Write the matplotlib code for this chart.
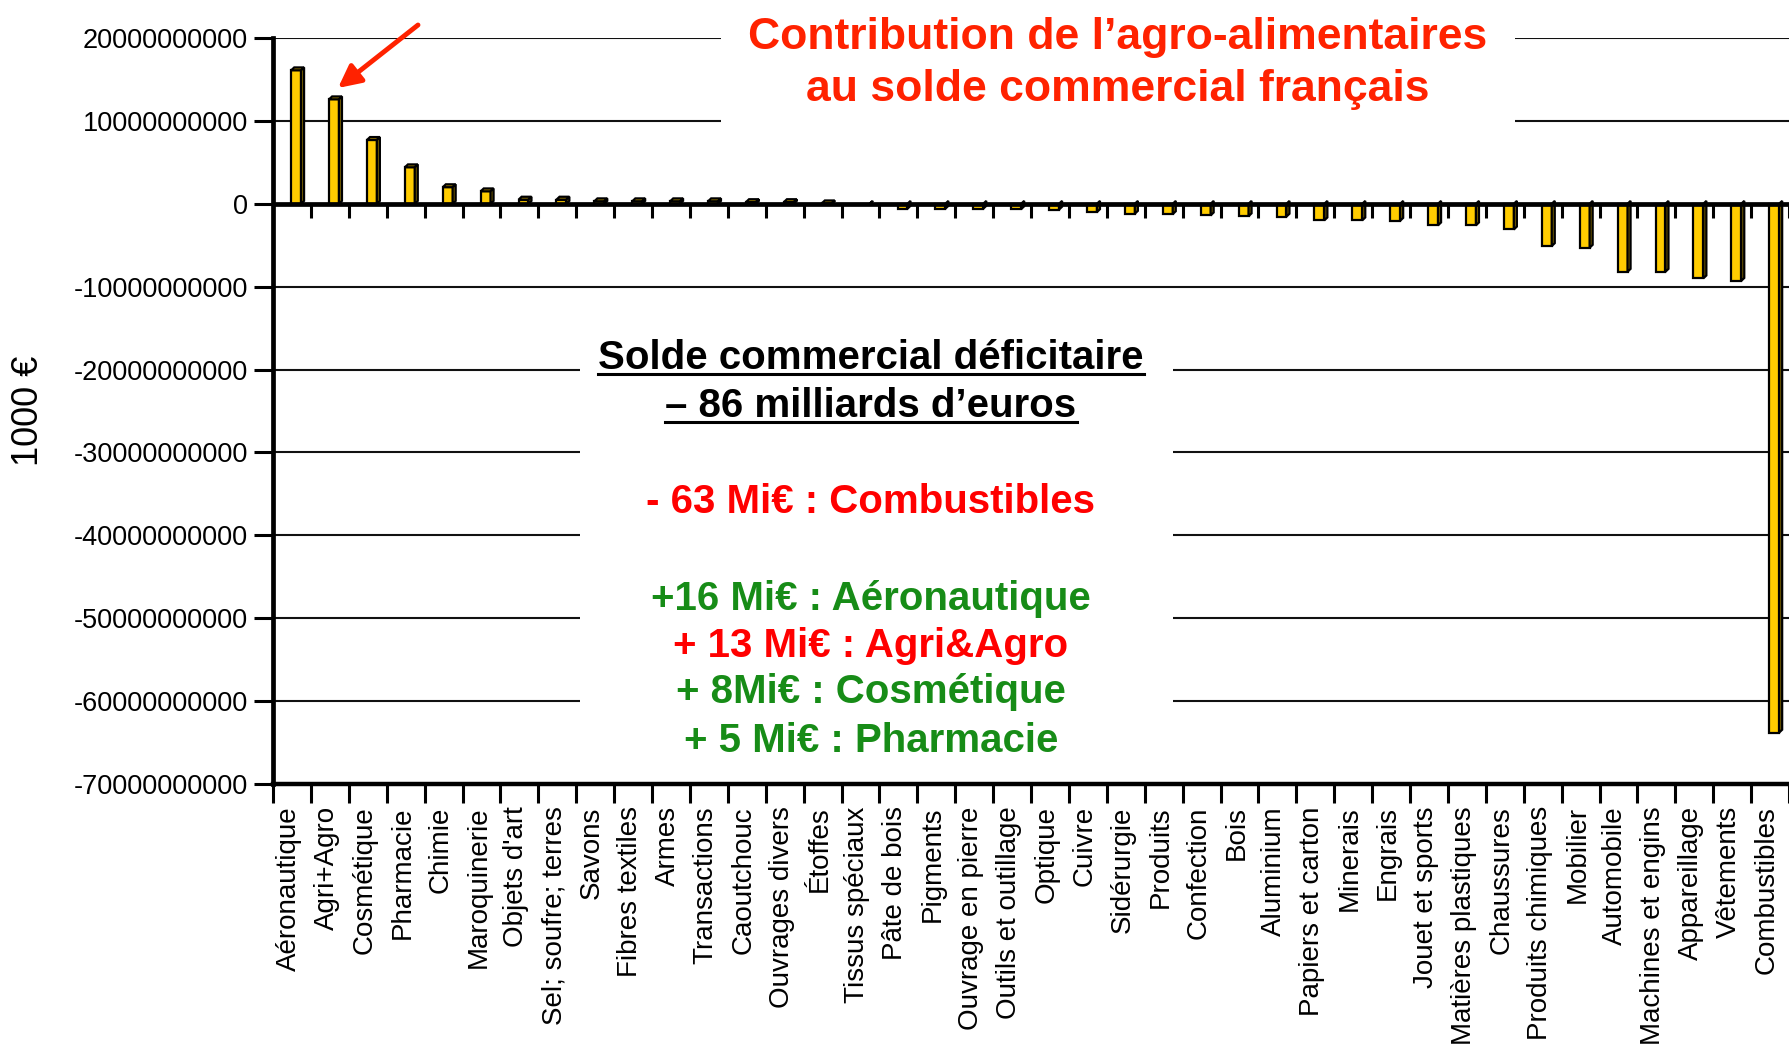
import numpy as np
import matplotlib
matplotlib.use('Agg')
import matplotlib.pyplot as plt
from matplotlib.patches import Polygon, Rectangle
from matplotlib.lines import Line2D

plt.rcParams['font.family'] = ['Liberation Sans', 'DejaVu Sans']
plt.rcParams['axes.unicode_minus'] = False

# categories, ordered as in the chart
secteurs = ['Aéronautique', 'Agri+Agro', 'Cosmétique', 'Pharmacie', 'Chimie',
            'Maroquinerie', "Objets d'art", 'Sel; soufre; terres', 'Savons',
            'Fibres textiles', 'Armes', 'Transactions', 'Caoutchouc',
            'Ouvrages divers', 'Étoffes', 'Tissus spéciaux', 'Pâte de bois',
            'Pigments', 'Ouvrage en pierre', 'Outils et outillage', 'Optique',
            'Cuivre', 'Sidérurgie', 'Produits', 'Confection', 'Bois',
            'Aluminium', 'Papiers et carton', 'Minerais', 'Engrais',
            'Jouet et sports', 'Matières plastiques', 'Chaussures',
            'Produits chimiques', 'Mobilier', 'Automobile',
            'Machines et engins', 'Appareillage', 'Vêtements', 'Combustibles']

# solde in billions of "1000 €" units
solde_mds = [16.1, 12.6, 7.7, 4.4, 2.0, 1.5, 0.5, 0.5, 0.3, 0.3, 0.3, 0.3,
             0.2, 0.2, 0.05, -0.05, -0.6, -0.6, -0.6, -0.65, -0.7, -1.0,
             -1.2, -1.25, -1.4, -1.5, -1.55, -2.0, -2.0, -2.05, -2.6, -2.6,
             -3.1, -5.1, -5.3, -8.2, -8.2, -9.0, -9.3, -63.8]
soldes = np.array(solde_mds) * 1e9

yticks = np.arange(-70, 21, 10) * 1e9
ytick_labels = [str(int(v)) for v in yticks]

titre = ['Contribution de l\u2019agro-alimentaires', 'au solde commercial français']
encadre = [('Solde commercial déficitaire', 'black', True),
           ('\u2013 86 milliards d\u2019euros', 'black', True),
           ('- 63 Mi€ : Combustibles', '#FF0000', False),
           ('+16 Mi€ : Aéronautique', '#178C17', False),
           ('+ 13 Mi€ : Agri&Agro', '#FF0000', False),
           ('+ 8Mi€ : Cosmétique', '#178C17', False),
           ('+ 5 Mi€ : Pharmacie', '#178C17', False)]
encadre_y = [369, 417, 513, 610, 657, 703, 752]

W, H = 1789, 1060
fig = plt.figure(figsize=(W / 100, H / 100), dpi=100)
ax = fig.add_axes([273 / W, 1 - 784 / H, (W - 273) / W, (784 - 38) / H])

n = len(secteurs)
x = np.arange(n)
x0 = x + 0.48
bw = 0.26
dx = 0.08
dy = 0.35e9

ax.bar(x0 + bw / 2, soldes, width=bw, color='#FFCC00', edgecolor='black',
       linewidth=1.6, zorder=3)
for xi, v in zip(x0, soldes):
    x1 = xi + bw
    if v >= 0:
        side = [(x1, 0), (x1 + dx, dy), (x1 + dx, v + dy), (x1, v)]
        top = [(xi, v), (xi + dx, v + dy), (x1 + dx, v + dy), (x1, v)]
        ax.add_patch(Polygon(top, closed=True, facecolor='#A88600',
                             edgecolor='black', lw=1.6, zorder=3))
    else:
        side = [(x1, v), (x1 + dx, v + dy), (x1 + dx, dy), (x1, 0)]
    ax.add_patch(Polygon(side, closed=True, facecolor='#806600',
                         edgecolor='black', lw=1.6, zorder=3))

# zero line and its ticks
ax.axhline(0, color='black', lw=3.4, zorder=4)
ax.vlines(np.arange(1, n + 1), 0, -1.7e9, color='black', lw=2.2, zorder=4)

ax.set_xlim(0, n)
ax.set_ylim(-70e9, 20e9)
ax.set_yticks(yticks)
ax.set_yticklabels(ytick_labels, fontsize=19.5)
ax.yaxis.grid(True, color='#111111', lw=1.5)
ax.set_axisbelow(True)

ax.set_xticks(np.arange(n + 1))
ax.set_xticklabels([])
ax.set_xticks(x + 0.42, minor=True)
ax.set_xticklabels(secteurs, minor=True, rotation=90, fontsize=20)
ax.tick_params(axis='x', which='major', length=14, width=2.2)
ax.tick_params(axis='x', which='minor', length=0, pad=16)
ax.tick_params(axis='y', length=14, width=2.2, pad=4)

for s in ['top', 'right']:
    ax.spines[s].set_visible(False)
ax.spines['left'].set_linewidth(3.4)
ax.spines['bottom'].set_linewidth(3.2)

fig.text(29 / W, 1 - 411 / H, '1000 €', rotation=90, fontsize=26,
         ha='center', va='center')

# white boxes hiding the grid behind the texts
ax.add_patch(Rectangle((721 / W, 1 - 130 / H), (1515 - 721) / W, 130 / H,
                       transform=fig.transFigure, facecolor='white',
                       edgecolor='none', zorder=1, clip_on=False))
ax.add_patch(Rectangle((580 / W, 1 - 775 / H), (1173 - 580) / W, 475 / H,
                       transform=fig.transFigure, facecolor='white',
                       edgecolor='none', zorder=1, clip_on=False))

for txt, yb in zip(titre, [49, 101]):
    fig.text(1118 / W, 1 - yb / H, txt, fontsize=32, fontweight='bold',
             color='#FF2200', ha='center', va='baseline')

souligne = []
for (txt, col, ul), yb in zip(encadre, encadre_y):
    t = fig.text(871 / W, 1 - yb / H, txt, fontsize=29, fontweight='bold',
                 color=col, ha='center', va='baseline')
    if ul:
        souligne.append((t, yb))

fig.canvas.draw()
rend = fig.canvas.get_renderer()
for t, yb in souligne:
    bb = t.get_window_extent(rend)
    fig.add_artist(Line2D([bb.x0 / W, bb.x1 / W], [1 - (yb + 5) / H] * 2,
                          transform=fig.transFigure, color='black', lw=2.2))

ax.annotate('', xy=(338 / W, 1 - 88 / H), xycoords='figure fraction',
            xytext=(418 / W, 1 - 25 / H), textcoords='figure fraction',
            arrowprops=dict(arrowstyle='-|>', color='#FF2200', lw=3.5,
                            mutation_scale=34, shrinkA=0, shrinkB=0))

fig.savefig('out.png', dpi=100)
